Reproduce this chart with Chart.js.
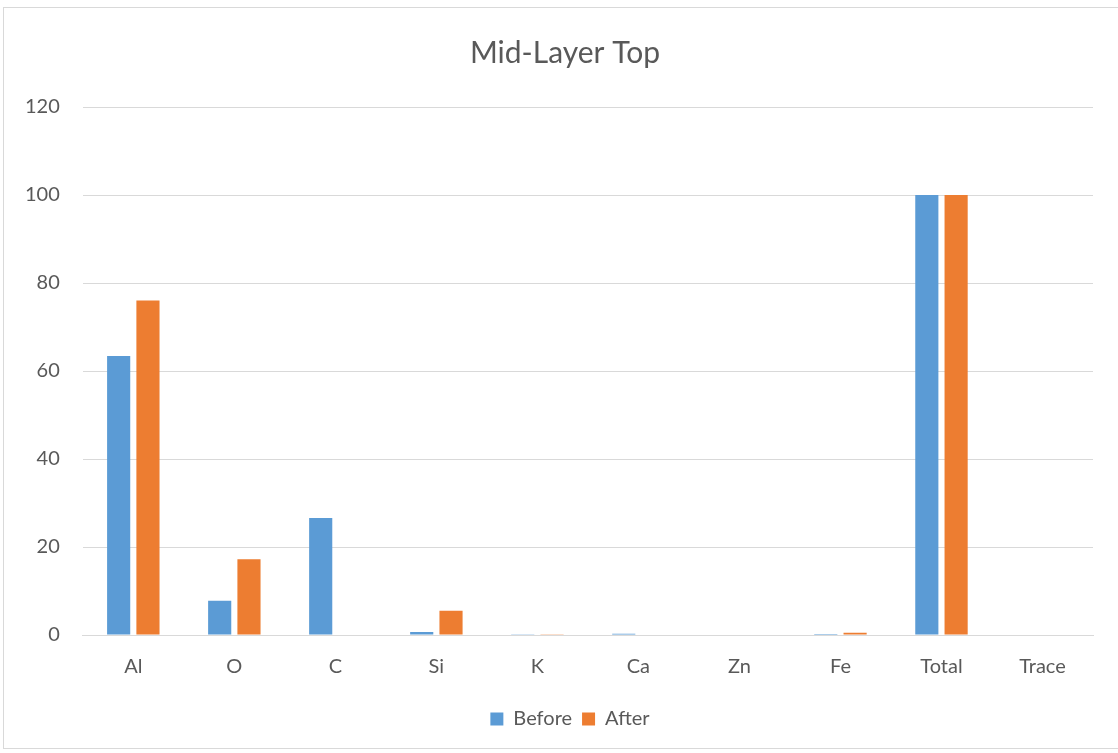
<!DOCTYPE html>
<html>
<head>
<meta charset="utf-8">
<script src="https://cdn.jsdelivr.net/npm/chart.js@4/dist/chart.umd.min.js"></script>
<style>
  html, body { margin: 0; padding: 0; background: #ffffff; }
  body { width: 1118px; height: 753px; position: relative; overflow: hidden; }
  #frame { position: absolute; left: 3px; top: 7px; width: 1125px; height: 742px; border: 1px solid #d9d9d9; box-sizing: border-box; }
  #wrap { position: absolute; left: 0; top: 0; width: 1118px; height: 753px; }
</style>
</head>
<body>
<div id="frame"></div>
<div id="wrap"><canvas id="chart"></canvas></div>
<script>
// Elements measured, percentages
const categories = ['Al', 'O', 'C', 'Si', 'K', 'Ca', 'Zn', 'Fe', 'Total', 'Trace'];
const beforeValues = [63.4, 7.8, 26.6, 0.7, 0.05, 0.3, 0, 0.2, 100, 0];
const afterValues = [76.0, 17.2, 0, 5.5, 0.05, 0, 0, 0.5, 100, 0];
const yTicks = [0, 20, 40, 60, 80, 100, 120];

const textColor = '#595959';
const fontFamily = 'Lato, "Open Sans", "Liberation Sans", sans-serif';

// Title and legend are centred on the page frame rather than the padded canvas box
const centreOnFrame = {
  id: 'centreOnFrame',
  afterLayout(chart) {
    if (chart.titleBlock) { chart.titleBlock.left = 37; }
    if (chart.legend) { chart.legend.left = 47; }
  }
};

new Chart(document.getElementById('chart'), {
  type: 'bar',
  data: {
    labels: categories,
    datasets: [
      { label: 'Before', data: beforeValues, backgroundColor: '#5b9bd5', borderColor: '#ffffff', borderWidth: 0 },
      { label: 'After', data: afterValues, backgroundColor: '#ed7d31', borderColor: '#ffffff', borderWidth: 0 }
    ]
  },
  plugins: [centreOnFrame],
  options: {
    responsive: true,
    maintainAspectRatio: false,
    animation: false,
    devicePixelRatio: 1,
    datasets: { bar: { categoryPercentage: 0.58, barPercentage: 0.79 } },
    layout: { padding: { left: 2, right: 25, top: 35, bottom: 14 } },
    plugins: {
      title: {
        display: true,
        text: 'Mid-Layer Top',
        color: textColor,
        font: { family: fontFamily, size: 30, weight: 'normal' },
        padding: { top: 0, bottom: 36 }
      },
      legend: {
        position: 'bottom',
        labels: {
          color: textColor,
          font: { family: fontFamily, size: 20 },
          boxWidth: 13,
          boxHeight: 13,
          padding: 10
        }
      },
      tooltip: { enabled: false }
    },
    scales: {
      x: {
        grid: { display: false, drawTicks: false },
        border: { display: true, color: '#d9d9d9', width: 1 },
        ticks: { color: textColor, font: { family: fontFamily, size: 20 }, padding: 20 }
      },
      y: {
        min: 0,
        max: 120,
        afterBuildTicks: (axis) => { axis.ticks = yTicks.map(v => ({ value: v })); },
        grid: { color: '#d9d9d9', lineWidth: 1, drawTicks: false },
        border: { display: false },
        ticks: { color: textColor, font: { family: fontFamily, size: 20 }, padding: 23 }
      }
    }
  }
});
</script>
</body>
</html>
